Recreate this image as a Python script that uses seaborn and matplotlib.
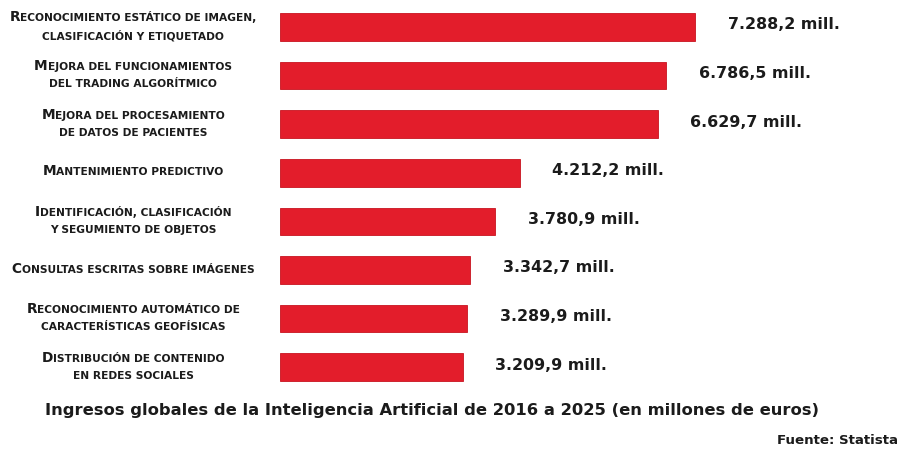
import matplotlib
matplotlib.use("Agg")
import matplotlib.pyplot as plt
from matplotlib.offsetbox import TextArea, HPacker, VPacker, AnnotationBbox
import seaborn as sns
import pandas as pd

# --- data -------------------------------------------------------------------
categories = [
    "Reconocimiento estático de imagen,\nclasificación y etiquetado",
    "Mejora del funcionamientos\ndel trading algorítmico",
    "Mejora del procesamiento\nde datos de pacientes",
    "Mantenimiento predictivo",
    "Identificación, clasificación\ny segumiento de objetos",
    "Consultas escritas sobre imágenes",
    "Reconocimiento automático de\ncaracterísticas geofísicas",
    "Distribución de contenido\nen redes sociales",
]
values = [7288.2, 6786.5, 6629.7, 4212.2, 3780.9, 3342.7, 3289.9, 3209.9]
title = "Ingresos globales de la Inteligencia Artificial de 2016 a 2025 (en millones de euros)"
source = "Fuente: Statista"

df = pd.DataFrame({"categoria": categories, "ingresos": values})

# --- figure -----------------------------------------------------------------
W, H, DPI = 901, 451, 100
sns.set_theme(style="white")
plt.rcParams["font.family"] = ["DejaVu Sans"]

fig = plt.figure(figsize=(W / DPI, H / DPI), dpi=DPI)
fig.patch.set_facecolor("white")

# axes: left edge at 280 px, 0.0569 px per million euros
ax_left, ax_right = 280, 880
px_per_unit = 415 / 7288.2
top_px, step_px = 27, 48.6
ax_top = top_px - step_px / 2
ax_bottom = top_px + step_px * 7.5
ax = fig.add_axes([ax_left / W, 1 - ax_bottom / H,
                   (ax_right - ax_left) / W, (ax_bottom - ax_top) / H])

RED = "#e31d2b"
sns.barplot(data=df, x="ingresos", y="categoria", orient="h", color=RED,
            width=0.57, saturation=1, ax=ax, edgecolor="#c8141f", linewidth=0.6)

ax.set_xlim(0, (ax_right - ax_left) / px_per_unit)
ax.set_ylim(7.5, -0.5)
ax.set_axis_off()

TEXT = "#1b1b1b"


def fmt_es(v):
    s = f"{v:,.1f}"
    return s.replace(",", "X").replace(".", ",").replace("X", ".")


# value labels
for i, v in enumerate(values):
    ax.annotate(f"{fmt_es(v)} mill.", xy=(v, i), xytext=(23.5, 1.5),
                textcoords="offset points", ha="left", va="center",
                fontsize=11.4, fontweight="bold", color=TEXT)

# category labels in small caps
big, small = 9.9, 7.7
for i, lab in enumerate(categories):
    lines = lab.split("\n")
    first = lines[0]
    row1 = HPacker(children=[
        TextArea(first[0].upper(), textprops=dict(fontsize=big, fontweight="bold", color=TEXT)),
        TextArea(first[1:].upper(), textprops=dict(fontsize=small, fontweight="bold", color=TEXT)),
    ], align="baseline", pad=0, sep=0)
    rows = [row1]
    for ln in lines[1:]:
        rows.append(TextArea(ln.upper(), textprops=dict(fontsize=small, fontweight="bold", color=TEXT)))
    box = VPacker(children=rows, align="center", pad=0, sep=4.3)
    ab = AnnotationBbox(box, xy=(133 / W, i - 0.03), xycoords=("figure fraction", "data"),
                        box_alignment=(0.5, 0.5), frameon=False, pad=0,
                        annotation_clip=False)
    ax.add_artist(ab)

fig.text(45 / W, 1 - 411 / H, title, ha="left", va="center",
         fontsize=11.8, fontweight="bold", color=TEXT)
fig.text(898 / W, 1 - 440 / H, source, ha="right", va="center",
         fontsize=9.6, fontweight="bold", color=TEXT)

fig.savefig("out.png", dpi=DPI, facecolor="white")
